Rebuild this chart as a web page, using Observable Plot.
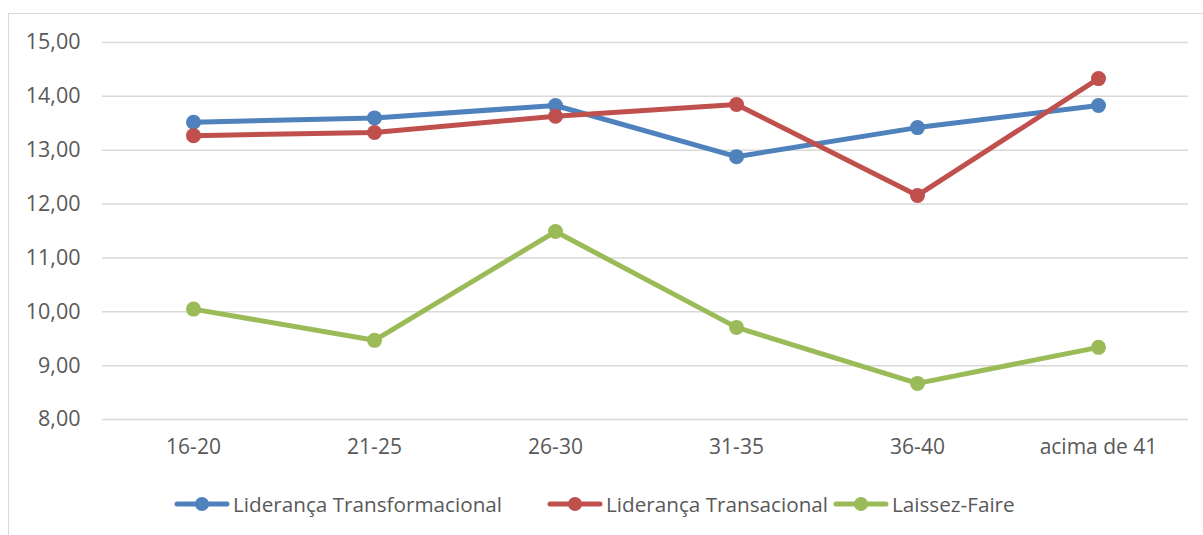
<!DOCTYPE html>
<html>
<head>
<meta charset="utf-8">
<script src="https://cdn.jsdelivr.net/npm/d3@7"></script>
<script src="https://cdn.jsdelivr.net/npm/@observablehq/plot@0.6"></script>
<style>
  html, body { margin: 0; padding: 0; background: #fff; }
  body { width: 1203px; height: 535px; position: relative; overflow: hidden; font-family: "Open Sans", sans-serif; }
  #frame { position: absolute; left: 8px; top: 13px; width: 1210px; height: 540px; border: 1.5px solid #d9d9d9; box-sizing: border-box; }
  #chart { position: absolute; left: 0; top: 0; }
  .leg { position: absolute; top: 490px; height: 28px; display: flex; align-items: center; font-size: 20.7px; color: #595959; white-space: nowrap; }
  .leg svg { display: block; margin-right: 3px; }
</style>
</head>
<body>
<div id="frame"></div>
<div id="chart"></div>
<div id="legend"></div>
<script>
const categories = ["16-20", "21-25", "26-30", "31-35", "36-40", "acima de 41"];
const seriesNames = ["Liderança Transformacional", "Liderança Transacional", "Laissez-Faire"];
const transformacional = [13.52, 13.60, 13.83, 12.88, 13.42, 13.83];
const transacional = [13.27, 13.33, 13.63, 13.85, 12.16, 14.33];
const laissezFaire = [10.05, 9.47, 11.49, 9.71, 8.67, 9.34];
const seriesColors = ["#4F81BD", "#C0504D", "#9BBB59"];
const yTicks = [8, 9, 10, 11, 12, 13, 14, 15];
const legendX = [174, 547, 833];

const seriesValues = [transformacional, transacional, laissezFaire];
const data = [];
seriesNames.forEach((name, i) => {
  categories.forEach((c, j) => data.push({series: name, cat: c, value: seriesValues[i][j]}));
});

const marks = [
  Plot.ruleY(yTicks, {stroke: "#d9d9d9", strokeWidth: 1.5}),
  Plot.axisY({ticks: yTicks, tickSize: 0, tickPadding: 22, tickFormat: d => d.toFixed(2).replace(".", ","), fontSize: 21.5}),
  Plot.axisX({tickSize: 0, tickPadding: 20, fontSize: 21})
];
seriesNames.forEach((name, i) => {
  const d = data.filter(r => r.series === name);
  marks.push(Plot.line(d, {x: "cat", y: "value", stroke: seriesColors[i], strokeWidth: 5, strokeLinecap: "round", strokeLinejoin: "round"}));
  marks.push(Plot.dot(d, {x: "cat", y: "value", fill: seriesColors[i], r: 7.5}));
});

const chart = Plot.plot({
  width: 1203,
  height: 470,
  marginTop: 42,
  marginBottom: 51,
  marginLeft: 102,
  marginRight: 15,
  style: {fontFamily: "Open Sans, sans-serif", color: "#595959", background: "transparent", fontSize: "21px"},
  x: {type: "point", domain: categories, padding: 0.5, label: null},
  y: {domain: [8, 15], label: null},
  marks
});
document.getElementById("chart").appendChild(chart);

const legend = document.getElementById("legend");
seriesNames.forEach((name, i) => {
  const item = document.createElement("div");
  item.className = "leg";
  item.style.left = legendX[i] + "px";
  item.innerHTML = `<svg width="56" height="16"><line x1="3" y1="8" x2="53" y2="8" stroke="${seriesColors[i]}" stroke-width="5" stroke-linecap="round"/><circle cx="28" cy="8" r="7" fill="${seriesColors[i]}"/></svg><span>${name}</span>`;
  legend.appendChild(item);
});
</script>
</body>
</html>
